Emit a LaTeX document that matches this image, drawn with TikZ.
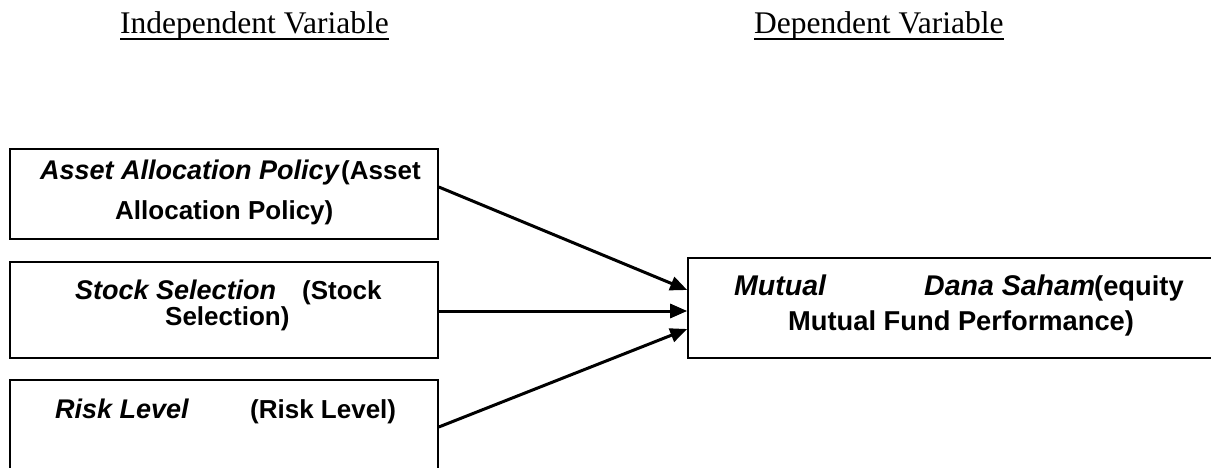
\documentclass[tikz,border=0pt]{standalone}
\usepackage{fontspec}
\setmainfont{Liberation Serif}
\newfontfamily\boxfont{Liberation Sans}
\usetikzlibrary{arrows.meta}
\begin{document}
\begin{tikzpicture}[x=1pt,y=-1pt,
  vbox/.style={draw, line width=1.6pt, inner sep=0pt},
  lbl/.style={anchor=base west, inner sep=0pt, font=\boxfont\fontsize{26}{28}\selectfont\bfseries},
  ilbl/.style={anchor=base west, inner sep=0pt, font=\boxfont\fontsize{27}{28}\selectfont\bfseries\itshape},
  rlbl/.style={anchor=base west, inner sep=0pt, font=\boxfont\fontsize{27.3}{28}\selectfont\bfseries},
  rilbl/.style={anchor=base west, inner sep=0pt, font=\boxfont\fontsize{28.5}{30}\selectfont\bfseries\itshape},
  hdr/.style={anchor=base west, inner sep=0pt, font=\fontsize{31.5}{36}\selectfont},
  uline/.style={line width=2pt},
  arr/.style={line width=3pt, -{Triangle[length=17pt,width=14pt]}}]
\useasboundingbox (0,0) rectangle (1211,468);
% headers
\node[hdr] (h1) at (120,34) {Independent Variable};
\node[hdr] (h2) at (754,34) {Dependent Variable};
\coordinate (u) at (0,39);
\draw[uline] (h1.west |- u) -- (h1.east |- u);
\draw[uline] (h2.west |- u) -- (h2.east |- u);
% boxes
\node[vbox, minimum width=428pt, minimum height=90pt] (b1) at (224,194) {};
\node[vbox, minimum width=428pt, minimum height=96pt] (b2) at (224,310) {};
\node[vbox, minimum width=428pt, minimum height=92pt] (b3) at (224,426) {};
\node[vbox, minimum width=528pt, minimum height=100pt] (dv) at (952,308) {};
% box texts
\node[ilbl] (t1) at (40,180) {Asset Allocation Policy};
\node[lbl] (t2) at (341,180) {(Asset};
\node[lbl] (t3) at (115,219) {Allocation Policy)};
\node[ilbl] (t4) at (75,299) {Stock Selection};
\node[lbl] (t5) at (302,299) {(Stock};
\node[lbl] (t6) at (165,325) {Selection)};
\node[ilbl] (t7) at (55,418) {Risk Level};
\node[lbl] (t8) at (250,418) {(Risk Level)};
\node[rilbl] (t9) at (734,295) {Mutual};
\node[rilbl] (t10) at (924,295) {Dana Saham};
\node[rlbl] (t11) at (1094,295) {(equity};
\node[rlbl] (t12) at (788,330) {Mutual Fund Performance)};
% arrows
\coordinate (y1) at (0,187);
\coordinate (y2) at (0,290);
\coordinate (y3) at (0,311);
\coordinate (y4) at (0,427);
\coordinate (y5) at (0,329);
\draw[arr] (b1.east |- y1) -- (dv.west |- y2);
\draw[arr] (b2.east |- y3) -- (dv.west |- y3);
\draw[arr] (b3.east |- y4) -- (dv.west |- y5);
\end{tikzpicture}
\end{document}
